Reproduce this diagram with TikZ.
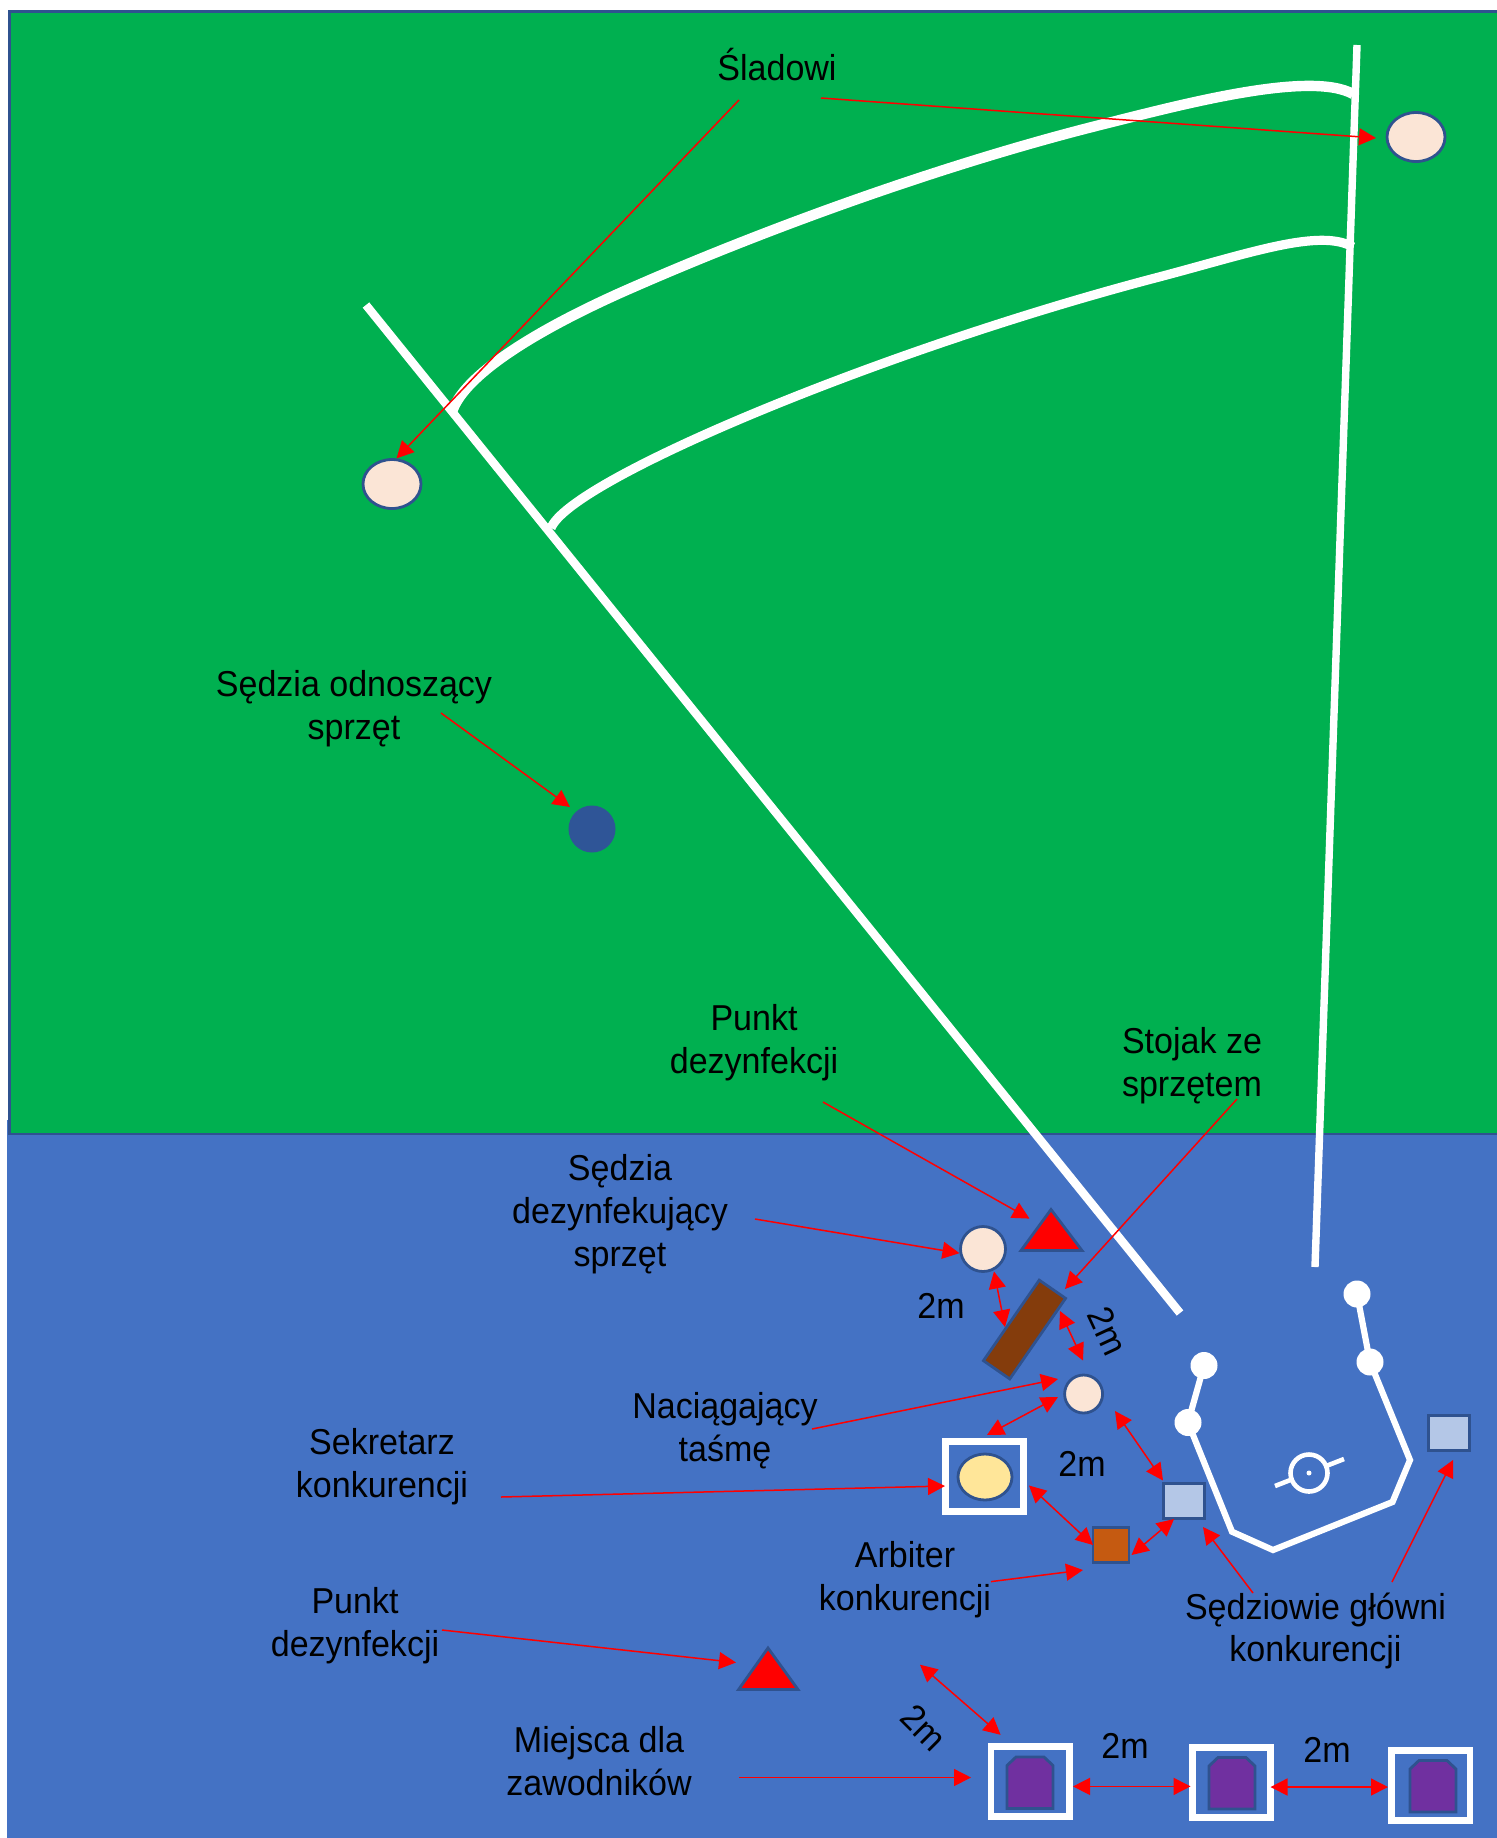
\documentclass[tikz,border=0pt]{standalone}
\usepackage{fontspec}
\setmainfont[FakeStretch=0.945]{Liberation Sans}
\usetikzlibrary{arrows.meta,shapes.geometric}
\definecolor{trawa}{HTML}{00B050}
\definecolor{woda}{HTML}{4472C4}
\definecolor{obrys}{HTML}{2F528F}
\definecolor{cielisty}{HTML}{FBE5D6}
\definecolor{zolty}{HTML}{FFE699}
\definecolor{jasny}{HTML}{B4C7E7}
\definecolor{pomarancz}{HTML}{C55A11}
\definecolor{braz}{HTML}{843C0C}
\definecolor{fiolet}{HTML}{7030A0}
\definecolor{granat}{HTML}{2F5597}
\tikzset{
  opis/.style={align=center,inner sep=0pt,font=\fontsize{18}{21.4}\selectfont},
  arr/.style={-{Triangle[length=8.5pt,width=8.5pt]},red,line width=0.75pt},
  darr/.style={{Triangle[length=8.5pt,width=8.5pt]}-{Triangle[length=8.5pt,width=8.5pt]},red,line width=0.75pt},
  linia/.style={white,line width=4.2pt},
  osoba/.style={ellipse,draw=obrys,line width=1.4pt,fill=cielisty,inner sep=0pt},
  ramka/.style={rectangle,draw=white,line width=3.3pt,minimum width=39.2pt,minimum height=35pt,inner sep=0pt},
  sedzia/.style={rectangle,draw=obrys,line width=1.4pt,inner sep=0pt,minimum width=20.5pt,minimum height=17.5pt},
  zawodnik/.style={draw=obrys,line width=1.4pt,fill=fiolet,line join=miter},
  tyczka/.style={circle,fill=white,inner sep=0pt,minimum size=13.5pt}
}
\begin{document}
\begin{tikzpicture}[x=0.5pt,y=-0.5pt]
  \useasboundingbox (0,0) rectangle (1496,1838);
  \fill[woda] (7,1120) rectangle (1500,1840);
  \draw[obrys,line width=1.4pt,fill=trawa] (9.5,11.5) rectangle (1510,1134);

  \draw[linia] (366,305)--(1180,1313);
  \draw[linia,line width=3.7pt] (1357,45)--(1315,1267);
  \draw[linia,line width=5.2pt] (452,412) .. controls (462,380) and (520,338) .. (620,293) .. controls (780,222) and (960,160) .. (1100,125) .. controls (1180,105) and (1310,70) .. (1353,94);
  \draw[linia,line width=4.6pt] (551,528) .. controls (570,480) and (880,350) .. (1159,277) .. controls (1250,253) and (1320,228) .. (1353,247);

  \draw[white,line width=3.1pt,line join=miter] (1357,1294)--(1370,1362)--(1410,1460)--(1392.5,1502)--(1273,1550)--(1232,1531.7)--(1188,1422.5)--(1204,1365.5);
  \node[tyczka] (tyczkaA) at (1357,1294) {};
  \node[tyczka] (tyczkaB) at (1370,1362) {};
  \node[tyczka] (tyczkaC) at (1204,1365.5) {};
  \node[tyczka] (tyczkaD) at (1188,1422.5) {};
  \draw[white,line width=2.3pt] (1275,1486)--(1344,1459);
  \node[circle,draw=white,line width=2.3pt,fill=woda,inner sep=0pt,minimum size=18.5pt] (kolo) at (1309,1473) {};
  \fill[white] (kolo) circle (2.5);

  \node[osoba,minimum width=29pt,minimum height=24.5pt] (sladowyL) at (392,484) {};
  \node[osoba,minimum width=29pt,minimum height=24.5pt] (sladowyP) at (1416,137) {};
  \node[circle,fill=granat,inner sep=0pt,minimum size=23.5pt] (odnoszacy) at (592,829) {};
  \node[osoba,circle,minimum size=22.5pt] (dezynf) at (983,1249) {};
  \node[osoba,circle,minimum size=19pt] (naciag) at (1083.6,1394) {};
  \draw[obrys,line width=1.4pt,fill=red] (1051,1209.5)--(1082,1250.5)--(1021,1250.5)--cycle;
  \draw[obrys,line width=1.4pt,fill=red] (768,1648)--(798,1689.5)--(738.6,1689.5)--cycle;
  \node[rectangle,draw=obrys,line width=1.4pt,fill=braz,rotate=55.3,inner sep=0pt,minimum width=49pt,minimum height=16pt] (stojak) at (1024.5,1329.5) {};
  \node[ramka] (sekrRamka) at (984.5,1476.5) {};
  \node[osoba,fill=zolty,minimum width=27pt,minimum height=23pt] (sekretarz) at (985,1477) {};
  \node[sedzia,fill=jasny] (glownyL) at (1184,1501) {};
  \node[sedzia,fill=jasny] (glownyP) at (1449,1433) {};
  \node[sedzia,fill=pomarancz,minimum width=18pt] (arbiter) at (1111,1545) {};
  \node[ramka] (ramkaA) at (1030.3,1781.5) {};
  \node[ramka] (ramkaB) at (1231.5,1782.5) {};
  \node[ramka] (ramkaC) at (1430.8,1785.5) {};
  \foreach \x/\y in {1030/1782.5,1232/1783,1433/1786}{
    \draw[zawodnik,shift={(\x,\y)}] (-23,26)--(-23,-17)--(-14,-25.5)--(14,-25.5)--(23,-17)--(23,26)--cycle;
  }

  \node[opis] (lSladowi) at (777,65) {Śladowi};
  \node[opis] (lOdnoszacy) at (354,708.5) {Sędzia odnoszący\\sprzęt};
  \node[opis] (lPunktA) at (754,1043) {Punkt\\dezynfekcji};
  \node[opis] (lStojak) at (1192,1066) {Stojak ze\\sprzętem};
  \node[opis] (lDezynf) at (620,1214) {Sędzia\\dezynfekujący\\sprzęt};
  \node[opis] (lNaciag) at (725,1430.5) {Naciągający\\taśmę};
  \node[opis] (lSekr) at (382,1467) {Sekretarz\\konkurencji};
  \node[opis] (lArbiter) at (905,1580) {Arbiter\\konkurencji};
  \node[opis] (lGlowni) at (1315.5,1631) {Sędziowie główni\\konkurencji};
  \node[opis] (lPunktB) at (355,1626) {Punkt\\dezynfekcji};
  \node[opis] (lMiejsca) at (599,1761.5) {Miejsca dla\\zawodników};
  \node[opis] (m1) at (941,1306) {2m};
  \node[opis,rotate=-65] (m2) at (1108,1331) {2m};
  \node[opis] (m3) at (1082,1464) {2m};
  \node[opis,rotate=-45] (m4) at (924,1727.6) {2m};
  \node[opis] (m5) at (1125,1746) {2m};
  \node[opis] (m6) at (1327,1750) {2m};

  \coordinate (sladA) at (739,100);
  \coordinate (sladB) at (821,98);
  \coordinate (sladBk) at (1376,138);
  \coordinate (odnA) at (441,713);
  \coordinate (odnk) at (570,807);
  \coordinate (punktA) at (823,1102);
  \coordinate (punktAk) at (1029.5,1218.6);
  \coordinate (dezA) at (755,1219);
  \coordinate (stojA) at (1237,1099);
  \coordinate (stojAk) at (1065,1289);
  \coordinate (nacA) at (812,1429);
  \coordinate (nacAk) at (1058,1379);
  \coordinate (sekrA) at (501,1497);
  \coordinate (sekrAk) at (945,1486);
  \coordinate (arbA) at (991,1581.6);
  \coordinate (arbk) at (1083,1570);
  \coordinate (gloA) at (1253,1593);
  \coordinate (gloAk) at (1203,1527);
  \coordinate (gloB) at (1392,1582);
  \coordinate (gloBk) at (1453,1460);
  \coordinate (punktB) at (442,1630);
  \coordinate (punktBk) at (736,1662.5);
  \coordinate (miejA) at (739,1777.5);
  \coordinate (miejAk) at (971,1777.5);

  \draw[arr] (sladA)--(sladowyL.80);
  \draw[arr] (sladB)--(sladBk);
  \draw[arr] (odnA)--(odnk);
  \draw[arr] (punktA)--(punktAk);
  \draw[arr] (dezA)--(dezynf.190);
  \draw[arr] (stojA)--(stojAk);
  \draw[arr] (nacA)--(nacAk);
  \draw[arr] (sekrA)--(sekrAk);
  \draw[arr] (arbA)--(arbk);
  \draw[arr] (gloA)--(gloAk);
  \draw[arr] (gloB)--(gloBk);
  \draw[arr] (punktB)--(punktBk);
  \draw[arr] (miejA)--(miejAk);

  \coordinate (d1a) at (994,1271.5);
  \coordinate (d1b) at (1005,1327);
  \coordinate (d2a) at (1060,1311);
  \coordinate (d2b) at (1083,1360.5);
  \coordinate (d3a) at (1058,1397);
  \coordinate (d3b) at (987,1435);
  \coordinate (d4a) at (1115,1411);
  \coordinate (d4b) at (1163,1480.5);
  \coordinate (d5a) at (1029,1485.5);
  \coordinate (d5b) at (1093,1545);
  \coordinate (d6a) at (1131.5,1555);
  \coordinate (d6b) at (1174,1519);
  \coordinate (d7a) at (920,1664.7);
  \coordinate (d7b) at (1000.6,1734.8);
  \coordinate (d8a) at (1073,1786.4);
  \coordinate (d8b) at (1190.6,1786.4);
  \coordinate (d9a) at (1270.5,1787);
  \coordinate (d9b) at (1388,1787);
  \foreach \i in {1,...,9}{
    \draw[darr] (d\i a)--(d\i b);
  }
\end{tikzpicture}
\end{document}
